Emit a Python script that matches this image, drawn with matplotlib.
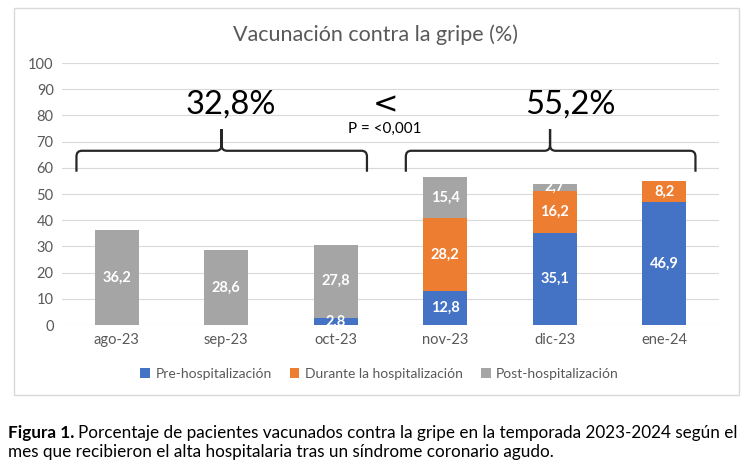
import matplotlib
matplotlib.use("Agg")
import matplotlib.pyplot as plt
from matplotlib.path import Path
from matplotlib.patches import PathPatch, Rectangle
import numpy as np

plt.rcParams['font.family'] = ['Lato', 'DejaVu Sans']

# data
meses = ["ago-23", "sep-23", "oct-23", "nov-23", "dic-23", "ene-24"]
pre = [0, 0, 2.8, 12.8, 35.1, 46.9]
durante = [0, 0, 0, 28.2, 16.2, 8.2]
post = [36.2, 28.6, 27.8, 15.4, 2.7, 0]
series_names = ["Pre-hospitalización", "Durante la hospitalización", "Post-hospitalización"]
colores = ["#4472C4", "#ED7D31", "#A5A5A5"]
grupo_antes = "32,8%"
grupo_despues = "55,2%"
p_valor = "P = <0,001"

fig = plt.figure(figsize=(7.5, 4.69), dpi=100)
fig.patch.set_facecolor("white")

# border round the chart area
fig.patches.append(Rectangle((14 / 750, 1 - 395 / 469), 725 / 750, 387 / 469,
                             transform=fig.transFigure, fill=False,
                             edgecolor="#D9D9D9", linewidth=1))

ax = fig.add_axes([62 / 750, 1 - 325 / 469, 657 / 750, 262 / 469])
x = np.arange(len(meses))
bottom = np.zeros(len(meses))
for vals, name, col in zip([pre, durante, post], series_names, colores):
    vals = np.array(vals, dtype=float)
    ax.bar(x, vals, 0.4, bottom=bottom, color=col, label=name, zorder=2)
    for xi, b, v in zip(x, bottom, vals):
        if v > 0:
            ax.text(xi, b + v / 2, f"{v:.1f}".replace(".", ","), ha="center", va="center",
                    color="white", fontsize=10.5, fontweight="bold", zorder=3)
    bottom = bottom + vals

ax.set_xlim(-0.5, len(meses) - 0.5)
ax.set_ylim(0, 100)
ax.set_yticks(range(0, 101, 10))
ax.set_xticks(x)
ax.set_xticklabels(meses)
ax.tick_params(length=0, labelsize=10.5, colors="#595959", pad=6)
ax.grid(axis="y", color="#D9D9D9", linewidth=0.8, zorder=0)
for s in ax.spines.values():
    s.set_visible(False)


def llave(ax, x0, x1, xm, ybase, ytop, yend, rx=0.05, ry=2.2):
    verts = [(x0, yend), (x0, ybase - ry), (x0, ybase), (x0 + rx, ybase),
             (xm - rx, ybase), (xm, ybase), (xm, ybase + ry), (xm, ytop),
             (xm, ybase + ry), (xm, ybase), (xm + rx, ybase),
             (x1 - rx, ybase), (x1, ybase), (x1, ybase - ry), (x1, yend)]
    codes = [Path.MOVETO, Path.LINETO, Path.CURVE3, Path.CURVE3,
             Path.LINETO, Path.CURVE3, Path.CURVE3, Path.LINETO,
             Path.LINETO, Path.CURVE3, Path.CURVE3,
             Path.LINETO, Path.CURVE3, Path.CURVE3, Path.LINETO]
    ax.add_patch(PathPatch(Path(verts, codes), fill=False, edgecolor="#262626",
                           linewidth=1.6, clip_on=False, zorder=4))


llave(ax, -0.368, 2.285, 0.957, 66.5, 74.8, 58.5)
llave(ax, 2.64, 5.285, 3.957, 66.5, 74.8, 58.5)

ax.text(1.043, 84, grupo_antes, ha="center", va="center", fontsize=23.5, color="black")
ax.text(2.45, 84.0, "<", ha="center", va="center", fontsize=22, color="black",
        family="DejaVu Sans")
ax.text(4.14, 84, grupo_despues, ha="center", va="center", fontsize=23.5, color="black")
ax.text(2.445, 75.0, p_valor, ha="center", va="center", fontsize=11, color="black")

fig.text(0.501, 1 - 35 / 469, "Vacunación contra la gripe (%)", ha="center", va="center",
         fontsize=15.5, color="#595959")

fig.legend(loc="center", bbox_to_anchor=(0.506, 1 - 374 / 469), ncol=3, frameon=False,
           fontsize=10, handlelength=0.7, handleheight=0.7, handletextpad=0.4,
           columnspacing=1.3, labelcolor="#595959")

# caption
fig.canvas.draw()
r = fig.canvas.get_renderer()
t1 = fig.text(8 / 750, 1 - 433 / 469, "Figura 1.", fontweight="bold", fontsize=12.3,
              va="center", ha="left")
bb = t1.get_window_extent(renderer=r)
fig.text(bb.x1 / 750 + 0.005, 1 - 433 / 469,
         "Porcentaje de pacientes vacunados contra la gripe en la temporada 2023-2024 según el",
         fontsize=12.3, va="center", ha="left")
fig.text(8 / 750, 1 - 452 / 469,
         "mes que recibieron el alta hospitalaria tras un síndrome coronario agudo.",
         fontsize=12.3, va="center", ha="left")

fig.savefig("out.png", dpi=100)
